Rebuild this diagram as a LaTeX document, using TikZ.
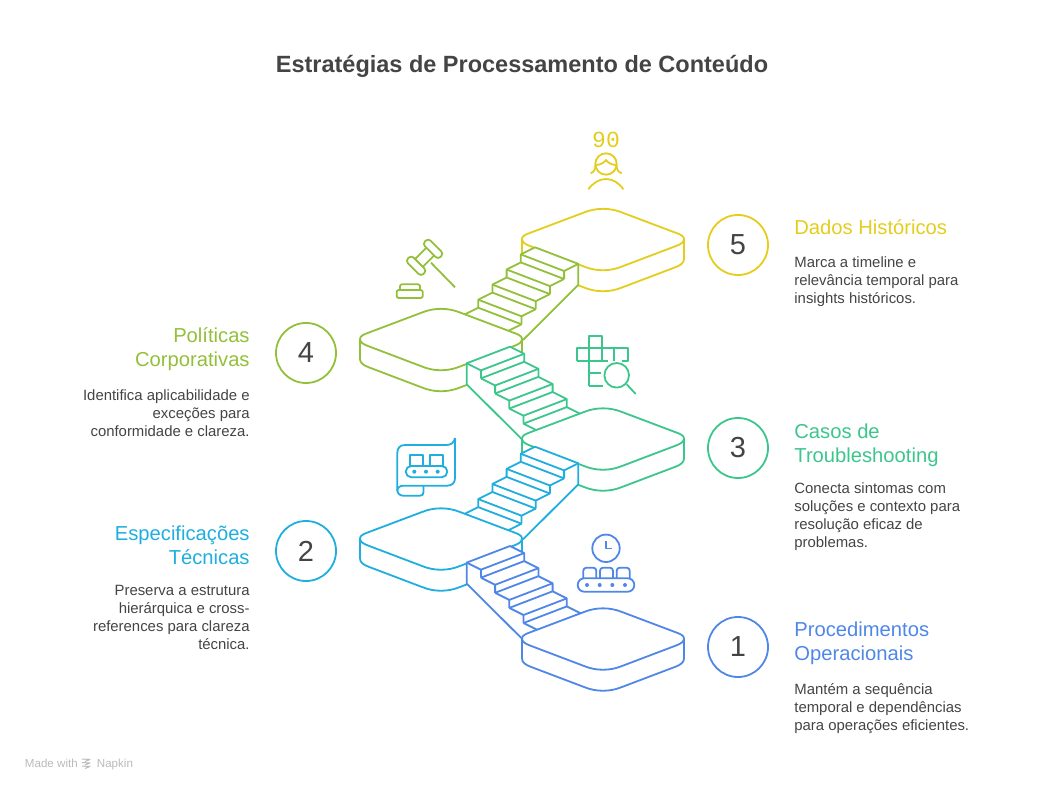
\documentclass[tikz,border=0pt]{standalone}
\usepackage{fontspec}
\setmainfont{Liberation Sans}
\newfontfamily\digitfont{Liberation Mono}
\definecolor{colyellow}{HTML}{E4CD1C}
\definecolor{collime}{HTML}{93C03A}
\definecolor{colgreen}{HTML}{3CC68C}
\definecolor{colcyan}{HTML}{1FAEDE}
\definecolor{colblue}{HTML}{4F87E8}
\definecolor{coltext}{HTML}{444444}
\begin{document}
\begin{tikzpicture}
        [
          x=1pt,y=-1pt,
          line width=1.8pt,
          line join=round,
          headleft/.style={anchor=north west,inner sep=0pt,align=left,font=\fontsize{20.2}{24}\selectfont},
          headright/.style={anchor=north east,inner sep=0pt,align=right,font=\fontsize{20.2}{24}\selectfont},
          bodyleft/.style={anchor=north west,inner sep=0pt,align=left,text=coltext,font=\fontsize{14.9}{18}\selectfont},
          bodyright/.style={anchor=north east,inner sep=0pt,align=right,text=coltext,font=\fontsize{14.9}{18}\selectfont},
          numcircle/.style={circle,minimum size=60pt,inner sep=0pt,text=coltext,font=\fontsize{29}{29}\selectfont},
          footer/.style={anchor=base west,inner sep=0pt,text=black!27,font=\fontsize{11.6}{11.6}\selectfont},
          platform/.pic={
            \path[fill=white] (0,1) .. controls (0,-2) and (3.5,-3.5) .. (9,-5.5) -- (62,-25.5)
              .. controls (74,-30.4) and (88,-30.4) .. (100,-25.5) -- (153,-5.5)
              .. controls (158.5,-3.5) and (162,-2) .. (162,1) -- (162,21)
              .. controls (162,25) and (158.5,27.4) .. (153,29.4) -- (100,49.5)
              .. controls (88,54.5) and (74,54.5) .. (62,49.5) -- (9,29.4)
              .. controls (3.5,27.4) and (0,25) .. (0,21) -- cycle;
            \draw (0,1) .. controls (0,-2) and (3.5,-3.5) .. (9,-5.5) -- (62,-25.5)
              .. controls (74,-30.4) and (88,-30.4) .. (100,-25.5) -- (153,-5.5)
              .. controls (158.5,-3.5) and (162,-2) .. (162,1) -- (162,21)
              .. controls (162,25) and (158.5,27.4) .. (153,29.4) -- (100,49.5)
              .. controls (88,54.5) and (74,54.5) .. (62,49.5) -- (9,29.4)
              .. controls (3.5,27.4) and (0,25) .. (0,21) -- cycle;
            \draw (0,1) .. controls (0,4.5) and (3.5,6.4) .. (9,8.4) -- (62,28.5)
              .. controls (74,33.5) and (88,33.5) .. (100,28.5) -- (153,8.4)
              .. controls (158.5,6.4) and (162,4.5) .. (162,1);
          },
          stairs/.pic={
            \path[fill=white] (0,0) -- (43.3,16.6) -- (43.3,37.6) -- (-12,92.7) -- (-27.7,84.1) -- (-71,67.5)
              -- (-56.8,60.4) -- (-56.8,52.4) -- (-42.6,45.3) -- (-42.6,37.3) -- (-28.4,30.2)
              -- (-28.4,22.2) -- (-14.2,15.1) -- (-14.2,7.1) -- cycle;
            \draw (0,0) -- (43.3,16.6) -- (43.3,37.6) -- (-12,92.7);
            \foreach \i in {0,1,2,3} {
              \begin{scope}[shift={(-14.2*\i,15.1*\i)}]
                \draw (0,0) -- (-14.2,7.1) -- (-14.2,15.1);
                \draw (-14.2,7.1) -- (29.1,23.7) -- (29.1,31.7);
                \draw (43.3,16.6) -- (29.1,23.7);
                \draw (-14.2,15.1) -- (29.1,31.7);
              \end{scope}
            }
            \draw (-56.8,60.4) -- (-71,67.5) -- (-27.7,84.1) -- (-13.5,77);
          }
        ]
        \useasboundingbox (0,0) rectangle (1044,791);
        % title
        \node [inner sep=0pt,text=coltext,font=\fontsize{23.5}{28}\selectfont\bfseries] (title) at (522,66) {Estratégias de Processamento de Conteúdo};
        % platforms and stairs, from the top down
        \pic [color=colyellow] at (522,238) {platform};
        \pic [color=collime] at (535,247.3) {stairs};
        \pic [color=collime] at (360,338) {platform};
        \pic [color=colgreen,xscale=-1] at (510,346.7) {stairs};
        \pic [color=colgreen] at (522,437.5) {platform};
        \pic [color=colcyan] at (535,446.7) {stairs};
        \pic [color=colcyan] at (360,537.5) {platform};
        \pic [color=colblue,xscale=-1] at (510,546) {stairs};
        \pic [color=colblue] at (522,637.5) {platform};
        % numbers
        \foreach \n/\x/\y/\c in {5/738/245/colyellow,4/306/353/collime,3/738/448/colgreen,2/306/551/colcyan,1/738/647/colblue} {
            \node [numcircle,draw=\c] (num\n) at (\x,\y) {\n};
        }
        % right labels
        \node [headleft,text=colyellow] (head5) at (793.5,219) {Dados Históricos};
        \node [bodyleft] (text5) at (793.5,256) {Marca a timeline e\\relevância temporal para\\insights históricos.};
        \node [headleft,text=colgreen] (head3) at (793.5,423) {Casos de\\Troubleshooting};
        \node [bodyleft] (text3) at (793.5,482) {Conecta sintomas com\\soluções e contexto para\\resolução eficaz de\\problemas.};
        \node [headleft,text=colblue] (head1) at (793.5,621) {Procedimentos\\Operacionais};
        \node [bodyleft] (text1) at (793.5,683) {Mantém a sequência\\temporal e dependências\\para operações eficientes.};
        % left labels
        \node [headright,text=collime] (head4) at (250.5,327) {Políticas\\Corporativas};
        \node [bodyright] (text4) at (250.5,389) {Identifica aplicabilidade e\\exceções para\\conformidade e clareza.};
        \node [headright,text=colcyan] (head2) at (250.5,525) {Especificações\\Técnicas};
        \node [bodyright] (text2) at (250.5,584) {Preserva a estrutura\\hierárquica e cross-\\references para clareza\\técnica.};
        % person
        \begin{scope}[color=colyellow]
            \node [inner sep=0pt,text=colyellow,font=\fontsize{23}{23}\digitfont] (age) at (606,140) {90};
            \draw (606,164) circle (10.7);
            \draw (590.7,173.3) .. controls (594,172) and (595.5,169) .. (595.5,165);
            \draw (595.5,165) .. controls (600,165) and (604,163) .. (606,160) .. controls (608,163) and (612,165) .. (616.5,165);
            \draw (621.7,173.3) .. controls (618,172) and (616.5,169) .. (616.5,165);
            \draw (588.3,189.3) .. controls (593,183) and (599,179) .. (606,179) .. controls (613,179) and (619,183) .. (623.3,189.3);
        \end{scope}
        % gavel
        \begin{scope}[color=collime]
            \begin{scope}[shift={(424.6,257.3)},rotate=-45]
                \draw [rounded corners=3.5] (-11,-16) rectangle (11,-8);
                \draw [rounded corners=3.5] (-11,8) rectangle (11,16);
                \draw (-5.5,-8) -- (-5.5,8);
                \draw (5.5,-8) -- (5.5,8);
            \end{scope}
            \draw (431,262.7) -- (455,287.3);
            \draw [rounded corners=2] (396.7,298) rectangle (422.7,290);
            \draw [rounded corners=2] (400,290) -- (400,284.3) -- (420,284.3) -- (420,290);
        \end{scope}
        % crossword and lens
        \begin{scope}[color=colgreen]
            \draw (589.3,385.7) -- (589.3,336) -- (601.7,336) -- (601.7,360.7);
            \draw (576.7,360.7) -- (576.7,348.3) -- (627.7,348.3) -- (627.7,360.7) -- (622,360.7);
            \draw (576.7,360.7) -- (608,360.7);
            \draw (614.3,348.3) -- (614.3,360.7);
            \draw (589.3,372.7) -- (601,372.7);
            \draw (589.3,385.7) -- (603,385.7);
            \draw (616.7,375.3) circle (12.3);
            \draw (626.7,384.3) -- (635.7,394);
        \end{scope}
        % scroll with conveyor
        \begin{scope}[color=colcyan]
            \draw (455,438) .. controls (454,443) and (451,445) .. (446,445) -- (405,445)
              .. controls (400,445) and (397.3,448) .. (397.3,453) -- (397.3,490)
              .. controls (397.3,493.5) and (400,495.7) .. (403.3,495.7) -- (420,495.7)
              .. controls (422.5,495.7) and (423.5,494.5) .. (423.5,492) -- (423.5,485.7);
            \draw (397.3,491) .. controls (397.3,487.5) and (400,485.7) .. (403.3,485.7) -- (447,485.7)
              .. controls (452,485.7) and (455,483) .. (455,478) -- (455,438);
            \draw [rounded corners=5.6] (405.7,466) rectangle (447.3,477.3);
            \draw (410,466) -- (410,455) -- (422.7,455) -- (422.7,466);
            \draw (430,466) -- (430,455) -- (442.7,455) -- (442.7,466);
            \foreach \x in {414.3,426,437.7} {
                \fill (\x,471.7) circle (2);
            }
        \end{scope}
        % clock and conveyor
        \begin{scope}[color=colblue]
            \draw (606,548.3) circle (13.7);
            \draw (606,541) -- (606,548.5) -- (611.7,548.5);
            \draw [rounded corners=6.6] (577.7,578.3) rectangle (634.3,591.7);
            \foreach \x in {583.3,600,616.7} {
                \draw [rounded corners=3] (\x,578.3) -- (\x,567.7) -- (\x+13,567.7) -- (\x+13,578.3);
            }
            \foreach \x in {587,599.7,612.3,625} {
                \fill (\x,585) circle (2);
            }
        \end{scope}
        % footer
        \node [footer] (made) at (24,767.5) {Made with};
        \node [footer] (napkin) at (96,767.5) {Napkin};
        \foreach \y in {759,762.5,766} {
            \draw [black!27,line width=1pt] (82,\y) -- (90,\y+0.5) -- (85,\y+2.5);
        }
      \end{tikzpicture}
\end{document}
